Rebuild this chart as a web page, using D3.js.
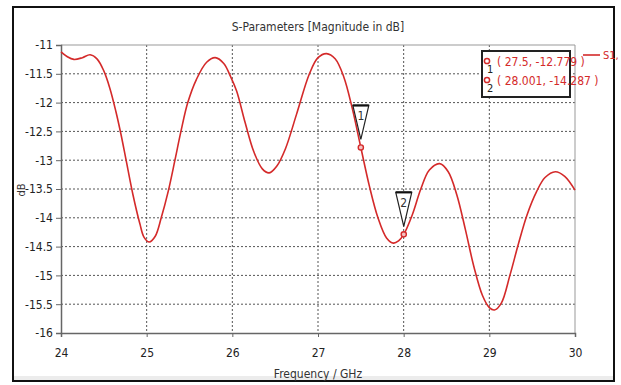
<!DOCTYPE html>
<html>
<head>
<meta charset="utf-8">
<script src="https://cdn.jsdelivr.net/npm/d3@7"></script>
<style>
  body { margin: 0; background: #fff; }
  svg text { font-family: "Liberation Sans Narrow", "Arial Narrow", "DejaVu Sans Condensed", sans-serif; font-stretch: condensed; }
</style>
</head>
<body>
<svg id="chart" width="621" height="385"></svg>
<script>
// frequency sweep (GHz) and S1,1 magnitude (dB)
var freq = [24.0, 24.07, 24.15, 24.25, 24.34, 24.42, 24.5, 24.57, 24.64, 24.7, 24.76, 24.84,
  24.92, 24.97, 25.03, 25.1, 25.17, 25.25, 25.33, 25.4, 25.48, 25.58, 25.7, 25.8, 25.9,
  25.98, 26.05, 26.15, 26.25, 26.35, 26.43, 26.52, 26.62, 26.75, 26.9, 27.0, 27.1, 27.2,
  27.3, 27.4, 27.5, 27.6, 27.7, 27.8, 27.88, 27.94, 28.001, 28.1, 28.2, 28.3, 28.42, 28.52,
  28.62, 28.72, 28.82, 28.92, 29.0, 29.06, 29.14, 29.24, 29.34, 29.44, 29.55, 29.65, 29.77,
  29.88, 30.0]
var s11 = [-11.12, -11.2, -11.25, -11.22, -11.17, -11.24, -11.45, -11.75, -12.15, -12.55, -13.0, -13.6,
  -14.1, -14.34, -14.42, -14.32, -14.0, -13.55, -13.0, -12.5, -12.0, -11.6, -11.3, -11.22, -11.32,
  -11.55, -11.8, -12.35, -12.85, -13.15, -13.22, -13.1, -12.8, -12.2, -11.5, -11.22, -11.15, -11.24,
  -11.55, -12.1, -12.779, -13.45, -14.0, -14.35, -14.44, -14.4, -14.287, -13.95, -13.5, -13.17, -13.06, -13.2,
  -13.6, -14.2, -14.85, -15.35, -15.56, -15.6, -15.48, -15.0, -14.45, -13.95, -13.55, -13.3, -13.2,
  -13.28, -13.52]

var xTicks = [24, 25, 26, 27, 28, 29, 30]
var yTicks = [-11, -11.5, -12, -12.5, -13, -13.5, -14, -14.5, -15, -15.5, -16]

var markerIds = [1, 2]
var markerX = [27.5, 28.001]
var markerY = [-12.779, -14.287]
var markerLabels = ["( 27.5, -12.779 )", "( 28.001, -14.287 )"]

;(function(){
  "use strict"

  var red = "#d42a2a"
  var svg = d3.select("#chart")

  // plot area
  var pl = 61, pr = 575, pt = 45, pb = 333

  var x = d3.scaleLinear().domain([24, 30]).range([pl, pr])
  var y = d3.scaleLinear().domain([-16, -11]).range([pb, pt])

  // outer frame
  svg.append("rect")
    .attr("x", 13).attr("y", 376).attr("width", 601).attr("height", 5)
    .attr("fill", "#ececec")
  svg.append("rect")
    .attr("x", 13).attr("y", 7).attr("width", 601).attr("height", 374)
    .attr("fill", "none").attr("stroke", "#111").attr("stroke-width", 2)

  // grid
  svg.selectAll(".vgrid")
    .data(xTicks.slice(1, -1))
    .enter().append("line")
    .attr("x1", function(d){ return x(d) }).attr("x2", function(d){ return x(d) })
    .attr("y1", pt).attr("y2", pb)
    .attr("stroke", "#555").attr("stroke-dasharray", "2,2")

  svg.selectAll(".hgrid")
    .data(yTicks.slice(1, -1))
    .enter().append("line")
    .attr("x1", pl).attr("x2", pr)
    .attr("y1", function(d){ return y(d) }).attr("y2", function(d){ return y(d) })
    .attr("stroke", "#555").attr("stroke-dasharray", "2,2")

  // top / right plot border
  svg.append("path")
    .attr("d", "M" + pl + "," + pt + "H" + pr + "V" + pb)
    .attr("fill", "none").attr("stroke", "#999")

  // axes
  var xAxis = d3.axisBottom(x).tickValues(xTicks).tickSize(4).tickFormat(d3.format("d"))
  var yAxis = d3.axisLeft(y).tickValues(yTicks).tickSize(5).tickFormat(function(d){ return d })

  var gx = svg.append("g").attr("transform", "translate(0," + pb + ")").call(xAxis)
  var gy = svg.append("g").attr("transform", "translate(" + pl + ",0)").call(yAxis)

  ;[gx, gy].forEach(function(g){
    g.select(".domain").attr("stroke", "#666").attr("stroke-width", 1.5)
    g.selectAll(".tick line").attr("stroke", "#666")
    g.selectAll(".tick text").attr("fill", "#222").attr("font-size", 12)
      .attr("font-family", null)
  })
  gx.selectAll(".tick text").attr("dy", "1.45em")
  gy.selectAll(".tick text").attr("x", -8)

  // titles
  svg.append("text")
    .attr("x", 318).attr("y", 31).attr("text-anchor", "middle")
    .attr("font-size", 12).attr("fill", "#333")
    .text("S-Parameters [Magnitude in dB]")

  svg.append("text")
    .attr("x", 318).attr("y", 378).attr("text-anchor", "middle")
    .attr("font-size", 12).attr("fill", "#333")
    .text("Frequency / GHz")

  svg.append("text")
    .attr("transform", "translate(25,190) rotate(-90)")
    .attr("text-anchor", "middle")
    .attr("font-size", 11).attr("fill", "#333")
    .text("dB")

  // the curve
  var line = d3.line()
    .x(function(d){ return x(d[0]) })
    .y(function(d){ return y(d[1]) })
    .curve(d3.curveCatmullRom.alpha(0.5))

  svg.append("path")
    .datum(d3.zip(freq, s11))
    .attr("d", line)
    .attr("fill", "none").attr("stroke", red).attr("stroke-width", 1.6)

  // markers: triangle flag above each point
  var markers = d3.zip(markerIds, markerX, markerY)

  var mk = svg.selectAll(".marker")
    .data(markers)
    .enter().append("g")
    .attr("transform", function(d){ return "translate(" + x(d[1]) + "," + y(d[2]) + ")" })

  mk.append("path")
    .attr("d", "M-8,-42H8L0,-8Z")
    .attr("fill", "#fff").attr("stroke", "#222").attr("stroke-width", 1.2)
  mk.append("path")
    .attr("d", "M-8,-42H8")
    .attr("stroke", "#111").attr("stroke-width", 2.2)
  mk.append("text")
    .attr("y", -27).attr("text-anchor", "middle")
    .attr("font-size", 12).attr("fill", "#333")
    .text(function(d){ return d[0] })
  mk.append("circle")
    .attr("r", 2.6)
    .attr("fill", "#f3c0c0").attr("stroke", red).attr("stroke-width", 1.4)

  // marker readout box
  svg.append("rect")
    .attr("x", 482).attr("y", 51).attr("width", 88).attr("height", 46)
    .attr("fill", "#fff").attr("stroke", "#222").attr("stroke-width", 2)

  var rows = svg.selectAll(".mrow")
    .data(markers)
    .enter().append("g")
    .attr("transform", function(d, i){ return "translate(0," + (61 + i * 19) + ")" })

  rows.append("circle")
    .attr("cx", 487).attr("cy", 0).attr("r", 2.6)
    .attr("fill", "none").attr("stroke", red).attr("stroke-width", 1.5)
  rows.append("text")
    .attr("x", 487).attr("y", 12).attr("font-size", 11).attr("fill", "#222")
    .text(function(d){ return d[0] })
  rows.append("text")
    .attr("x", 497).attr("y", 5).attr("font-size", 12).attr("fill", red)
    .text(function(d, i){ return markerLabels[i] })

  // legend, cut short by the frame as in the screenshot
  svg.append("line")
    .attr("x1", 583).attr("x2", 600).attr("y1", 55).attr("y2", 55)
    .attr("stroke", red).attr("stroke-width", 1.6)
  svg.append("text")
    .attr("x", 603).attr("y", 59).attr("font-size", 11).attr("fill", red)
    .text("S1,")
})()
</script>
</body>
</html>
